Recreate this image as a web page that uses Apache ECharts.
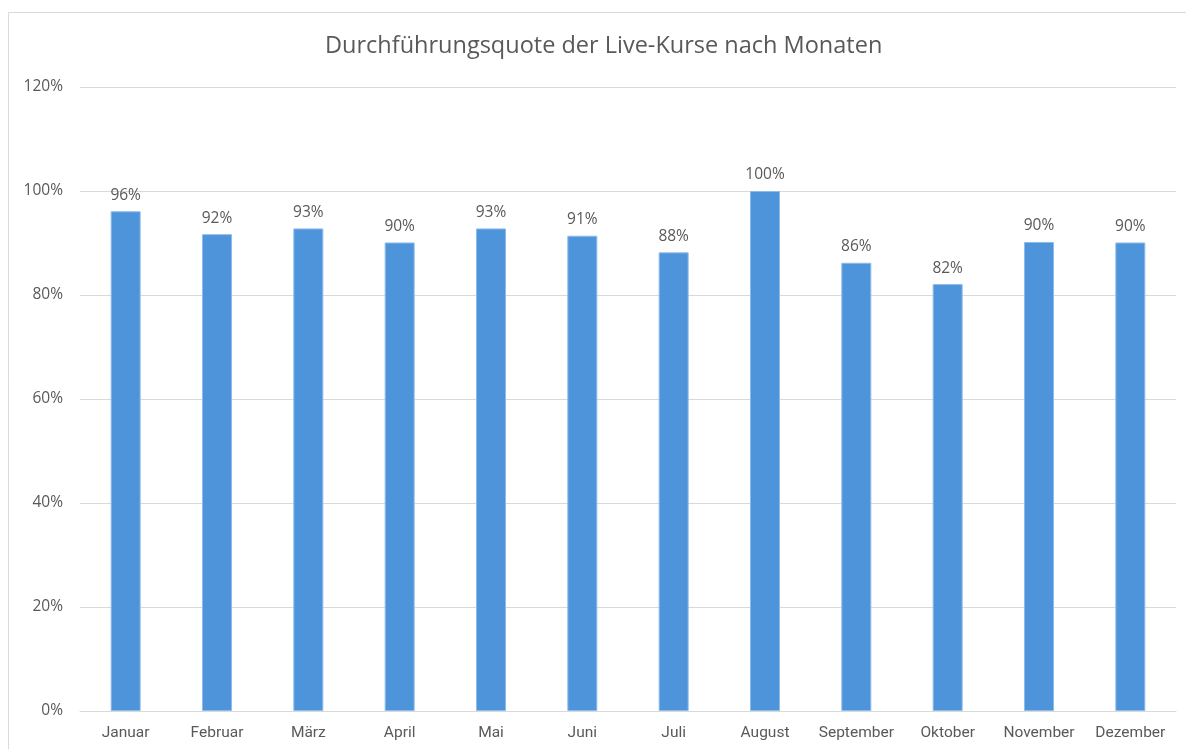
<!DOCTYPE html>
<html>
<head>
<meta charset="utf-8">
<script src="https://cdn.jsdelivr.net/npm/echarts@6/dist/echarts.min.js"></script>
<style>
  html, body { margin: 0; padding: 0; background: #fff; }
  #chart { width: 1186px; height: 749px; }
</style>
</head>
<body>
<div id="chart"></div>
<script>
// Monate
const months = ['Januar', 'Februar', 'März', 'April', 'Mai', 'Juni', 'Juli', 'August', 'September', 'Oktober', 'November', 'Dezember']
// Durchführungsquote in Prozent
const rates = [96.1, 91.7, 92.8, 90.1, 92.8, 91.4, 88.2, 100, 86.2, 82.1, 90.2, 90.1]
// Achsenbeschriftung
const yTicks = [0, 20, 40, 60, 80, 100, 120]

const chart = echarts.init(document.getElementById('chart'))
chart.setOption({
  animation: false,
  title: {
    text: 'Durchführungsquote der Live-Kurse nach Monaten',
    // Titel leicht rechts der Mitte (Rahmen beginnt bei x=8)
    left: 320,
    top: 29,
    textStyle: { fontFamily: 'Open Sans', fontSize: 23.5, fontWeight: 'normal', color: '#595959' }
  },
  // Rahmen des Diagrammbereichs
  graphic: [{
    type: 'rect',
    z: -1,
    shape: { x: 8.5, y: 12.5, width: 1300, height: 900 },
    style: { fill: 'none', stroke: '#d9d9d9', lineWidth: 1 }
  }],
  grid: { left: 80, right: 10, top: 87, bottom: 38 },
  xAxis: {
    type: 'category',
    data: months,
    axisTick: { show: false },
    axisLine: { show: true, lineStyle: { color: '#d9d9d9', width: 1 } },
    axisLabel: { interval: 0, color: '#595959', fontSize: 15.5, fontFamily: 'Roboto', margin: 14 }
  },
  yAxis: {
    type: 'value',
    min: yTicks[0],
    max: yTicks[yTicks.length - 1],
    interval: 20,
    axisLine: { show: false },
    axisTick: { show: false },
    splitLine: { lineStyle: { color: '#d9d9d9', width: 1 } },
    axisLabel: { color: '#595959', fontSize: 15.5, fontFamily: 'Open Sans', margin: 17, formatter: v => v + '%' }
  },
  series: [{
    type: 'bar',
    data: rates,
    barWidth: 30,
    itemStyle: { color: '#4E94DA', borderColor: '#8DBCEB', borderWidth: 1 },
    label: {
      show: true,
      position: 'top',
      distance: 8,
      color: '#595959',
      fontSize: 15.5,
      fontFamily: 'Open Sans',
      formatter: p => Math.round(p.value) + '%'
    }
  }]
})
</script>
</body>
</html>
